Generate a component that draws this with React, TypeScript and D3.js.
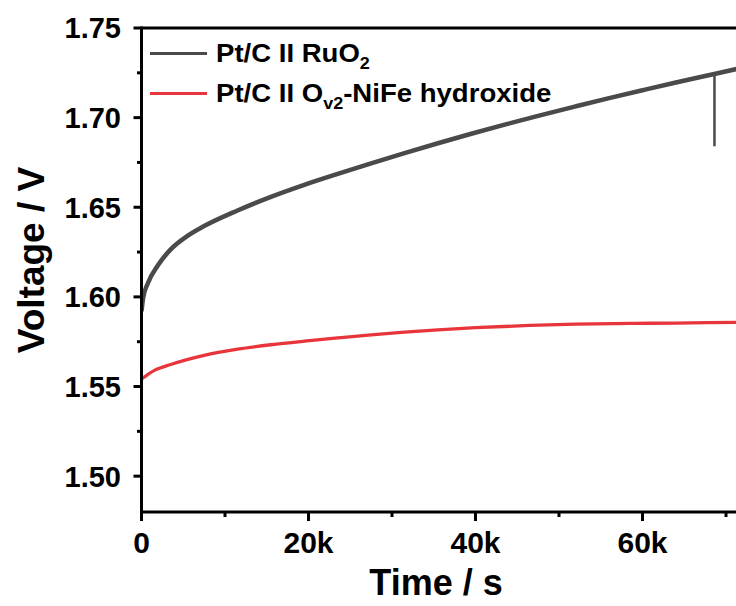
import React, { useLayoutEffect } from "react";
import * as d3 from "d3";

// Data (time in s, voltage in V)
const timeRuO2 = [0, 200, 750, 1950, 3500, 5500, 7500, 11500, 15500, 19500, 23500, 27500, 31500, 35500, 39500, 43500, 47500, 52000, 56000, 60000, 64000, 68600, 68620, 72000, 76000];
const voltRuO2 = [1.592, 1.5995, 1.6075, 1.6175, 1.6265, 1.634, 1.6395, 1.6482, 1.6558, 1.6625, 1.6686, 1.6745, 1.6802, 1.6857, 1.691, 1.6961, 1.701, 1.7063, 1.7109, 1.7153, 1.7196, 1.7243, 1.684, 1.7279, 1.7318];
const timeNiFe = [0, 750, 1550, 3500, 7500, 11500, 15500, 19500, 23500, 27500, 31500, 35500, 40000, 46500, 52000, 58500, 64000, 71200, 76000];
const voltNiFe = [1.5543, 1.5567, 1.559, 1.5623, 1.5674, 1.5708, 1.5733, 1.5753, 1.5771, 1.5788, 1.5803, 1.5816, 1.5828, 1.5841, 1.5848, 1.5852, 1.5854, 1.5858, 1.586];

const xTickValues = [0, 20000, 40000, 60000];
const xTickLabels = ["0", "20k", "40k", "60k"];
const xMinorValues = [10000, 30000, 50000, 70000];
const yTickValues = [1.5, 1.55, 1.6, 1.65, 1.7, 1.75];
const yTickLabels = ["1.50", "1.55", "1.60", "1.65", "1.70", "1.75"];
const yMinorValues = [1.525, 1.575, 1.625, 1.675, 1.725];

const W = 736;
const H = 606;
const FONT = "'Liberation Sans', Arial, sans-serif";
const GRAY = "#4a4a4a";
const RED = "#e8353b";

export default function App() {
  useLayoutEffect(() => {
    document.body.style.margin = "0";
  }, []);

  const x = d3.scaleLinear().domain([0, 80000]).range([141.5, 809.5]);
  const y = d3.scaleLinear().domain([1.48, 1.75]).range([512, 28]);

  const line = d3
    .line<[number, number]>()
    .x((d) => x(d[0]))
    .y((d) => y(d[1]))
    .curve(d3.curveMonotoneX);
  const lineSpike = d3
    .line<[number, number]>()
    .x((d) => x(d[0]))
    .y((d) => y(d[1]));

  const ruo2Pts: [number, number][] = timeRuO2.map((t, i) => [t, voltRuO2[i]]);
  const nifePts: [number, number][] = timeNiFe.map((t, i) => [t, voltNiFe[i]]);
  // the transient dip is the point lower than its predecessor
  const spikeIdx = ruo2Pts.findIndex((p, i) => i > 0 && p[1] < ruo2Pts[i - 1][1]);
  const ruoMain = ruo2Pts.filter((_, i) => i !== spikeIdx);
  const prev = ruo2Pts[spikeIdx - 1];
  const ruoSpike: [number, number][] = [
    [ruo2Pts[spikeIdx][0], prev[1]],
    ruo2Pts[spikeIdx],
  ];

  const x0 = x(0);
  const yB = y(1.48);
  const yT = y(1.75);

  return (
    <svg width={W} height={H} style={{ display: "block", background: "#fff" }} fontFamily={FONT}>
      <defs>
        <clipPath id="plotclip">
          <rect x={x0} y={yT} width={W - x0} height={yB - yT} />
        </clipPath>
      </defs>
      <g clipPath="url(#plotclip)">
        <path d={line(nifePts) || ""} fill="none" stroke={RED} strokeWidth={3.3} />
        <path d={line(ruoMain) || ""} fill="none" stroke={GRAY} strokeWidth={4.5} />
        <path d={lineSpike(ruoSpike) || ""} fill="none" stroke={GRAY} strokeWidth={2.5} />
      </g>

      {/* axes frame */}
      <line x1={x0} x2={W} y1={yT} y2={yT} stroke="#000" strokeWidth={3} />
      <line x1={x0} x2={x0} y1={yT - 1.5} y2={yB + 1.5} stroke="#000" strokeWidth={3} />
      <line x1={x0} x2={W} y1={yB} y2={yB} stroke="#000" strokeWidth={3} />

      {/* y ticks */}
      {yTickValues.map((v, i) => (
        <g key={"yt" + i}>
          <line x1={x0 - 8} x2={x0} y1={y(v)} y2={y(v)} stroke="#000" strokeWidth={3} />
          <text x={121} y={y(v)} dy="0.36em" textAnchor="end" fontSize={29} fontWeight="bold">
            {yTickLabels[i]}
          </text>
        </g>
      ))}
      {yMinorValues.map((v, i) => (
        <line key={"ym" + i} x1={x0 - 4.5} x2={x0} y1={y(v)} y2={y(v)} stroke="#000" strokeWidth={3} />
      ))}

      {/* x ticks */}
      {xTickValues.map((v, i) => (
        <g key={"xt" + i}>
          <line x1={x(v)} x2={x(v)} y1={yB} y2={yB + 9} stroke="#000" strokeWidth={3} />
          <text x={x(v)} y={553} textAnchor="middle" fontSize={30} fontWeight="bold">
            {xTickLabels[i]}
          </text>
        </g>
      ))}
      {xMinorValues.map((v, i) => (
        <line key={"xm" + i} x1={x(v)} x2={x(v)} y1={yB} y2={yB + 5} stroke="#000" strokeWidth={3} />
      ))}

      {/* axis titles */}
      <text x={436} y={595} textAnchor="middle" fontSize={36} fontWeight="bold">
        Time / s
      </text>
      <text
        transform={`translate(44, 260) rotate(-90)`}
        textAnchor="middle"
        fontSize={37}
        fontWeight="bold"
      >
        Voltage / V
      </text>

      {/* legend */}
      <line x1={150} x2={207} y1={53.5} y2={53.5} stroke={GRAY} strokeWidth={3} />
      <g transform="translate(216, 62) scale(1.06, 1)">
        <text x={0} y={0} fontSize={26} fontWeight="bold">
          Pt/C II RuO
          <tspan fontSize={17} dy={7}>2</tspan>
        </text>
      </g>
      <line x1={150} x2={207} y1={93.5} y2={93.5} stroke={RED} strokeWidth={3} />
      <g transform="translate(216, 102) scale(1.06, 1)">
        <text x={0} y={0} fontSize={26} fontWeight="bold">
          Pt/C II O
          <tspan fontSize={17} dy={7}>v2</tspan>
          <tspan dy={-7}>-NiFe hydroxide</tspan>
        </text>
      </g>
    </svg>
  );
}
